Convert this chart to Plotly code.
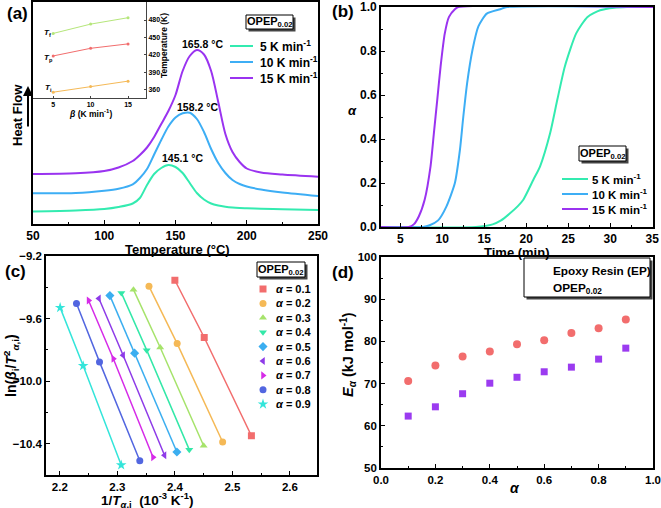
import plotly.graph_objects as go

W, H = 661, 508
FONT = "Liberation Sans, Arial, sans-serif"

# ---------------- data ----------------
# (a) DSC curves (heat flow, arbitrary units)
dsc_temp = [50, 80, 100, 110, 120, 125, 130, 135, 140, 145, 150, 155, 160, 165,
            170, 175, 180, 185, 190, 195, 200, 210, 225, 250]
hf_5 = [12.5, 13.5, 15, 17, 20.5, 26, 39, 50, 56, 59, 57, 51, 41, 31,
        24.5, 20.5, 18.5, 17.3, 16.5, 16, 15.7, 15.2, 14.7, 14]
hf_10 = [30.7, 31, 33.3, 35.3, 39.7, 46, 55, 69.5, 84, 97.5, 106.5, 110.7, 111.3, 105,
         92, 75, 61, 51, 44, 40, 37.5, 34.5, 31.5, 28]
hf_15 = [50, 50.7, 53, 56.5, 63, 69, 76.5, 87, 100, 113, 129, 153, 168, 174,
         169.5, 153, 122, 90, 72, 62, 55.5, 51.5, 49.5, 47.3]
peak_labels = ["145.1 °C", "158.2 °C", "165.8 °C"]
rate_names = ["5 K min<sup>-1</sup>", "10 K min<sup>-1</sup>", "15 K min<sup>-1</sup>"]

# (a) inset: characteristic temperatures (K) vs heating rate
beta = [5, 10, 15]
T_f = [457, 473, 484]
T_p = [418.3, 431.4, 439.0]
T_i = [356, 365.7, 375]

# (b) conversion vs time
t_5 = [2.7, 14.0, 16.0, 17.0, 18.0, 19.0, 19.65, 20.85, 21.65, 22.85, 23.7, 24.6, 25.95, 27.3, 28.8, 30.5, 32.0, 35.1]
a_5 = [0, 0, 0.012, 0.03, 0.06, 0.095, 0.124, 0.215, 0.276, 0.427, 0.578, 0.73, 0.88, 0.955, 0.985, 0.997, 1.0, 1.0]
t_10 = [2.7, 7.7, 8.5, 9.5, 10.5, 11.5, 12.1, 12.5, 12.96, 13.6, 14.3, 15.3, 16.9, 17.7, 35.1]
a_10 = [0, 0, 0.008, 0.03, 0.094, 0.2, 0.35, 0.5, 0.654, 0.806, 0.912, 0.97, 0.99, 1.0, 1.0]
t_15 = [2.7, 6.0, 6.6, 7.2, 7.9, 8.6, 9.0, 9.4, 9.8, 10.3, 10.8, 11.5, 11.9, 35.1]
a_15 = [0, 0, 0.012, 0.048, 0.124, 0.276, 0.427, 0.578, 0.73, 0.88, 0.955, 0.99, 1.0, 1.0]

# (c) KAS plots; points for 15, 10, 5 K/min
conv_labels = ["0.1", "0.2", "0.3", "0.4", "0.5", "0.6", "0.7", "0.8", "0.9"]
invT = [
    [2.400, 2.451, 2.533],
    [2.355, 2.404, 2.483],
    [2.328, 2.3745, 2.450],
    [2.307, 2.351, 2.425],
    [2.287, 2.330, 2.4035],
    [2.268, 2.310, 2.382],
    [2.250, 2.293, 2.362],
    [2.229, 2.269, 2.339],
    [2.2006, 2.2406, 2.3067],
]
lnbT = [
    [-9.355, -9.721, -10.349],
    [-9.394, -9.760, -10.389],
    [-9.415, -9.785, -10.413],
    [-9.436, -9.802, -10.438],
    [-9.453, -9.821, -10.453],
    [-9.472, -9.834, -10.474],
    [-9.485, -9.857, -10.487],
    [-9.504, -9.877, -10.509],
    [-9.530, -9.902, -10.536],
]

# (d) activation energy
alpha = [0.1, 0.2, 0.3, 0.4, 0.5, 0.6, 0.7, 0.8, 0.9]
Ea_EP = [70.6, 74.3, 76.4, 77.6, 79.3, 80.3, 82.0, 83.1, 85.2]
Ea_OPEP = [62.3, 64.5, 67.6, 70.1, 71.5, 72.8, 73.9, 75.8, 78.4]

# ---------------- styles ----------------
rate_colors = ["#33EBB0", "#3DAEF5", "#9A33F0"]
conv_colors = ["#F26D6D", "#F5B956", "#A6E36B", "#33E8A8", "#3BAEF0",
               "#8E3BE8", "#D62BE8", "#5266E0", "#33E5DA"]
conv_symbols = ["square", "circle", "triangle-up", "triangle-down", "diamond",
                "triangle-left", "triangle-right", "circle", "star"]
inset_colors = ["#B5E67A", "#F26D6D", "#F5B956"]
EP_COLOR = "#F26D6D"
OPEP_COLOR = "#9B3BF0"


def px(x):
    return x / W


def py(y):
    return 1 - y / H


fig = go.Figure()

# panel a
for hf, c in zip([hf_5, hf_10, hf_15], rate_colors):
    fig.add_trace(go.Scatter(x=dsc_temp, y=hf, mode="lines", line=dict(color=c, width=2, shape="spline", smoothing=0.8),
                             xaxis="x", yaxis="y", showlegend=False))
# inset
for T, c in zip([T_f, T_p, T_i], inset_colors):
    fig.add_trace(go.Scatter(x=beta, y=T, mode="lines+markers", line=dict(color=c, width=1),
                             marker=dict(color=c, size=3), xaxis="x5", yaxis="y5", showlegend=False))
# panel b
for t, a, c in zip([t_5, t_10, t_15], [a_5, a_10, a_15], rate_colors):
    fig.add_trace(go.Scatter(x=t, y=a, mode="lines", line=dict(color=c, width=2, shape="spline", smoothing=0.6),
                             xaxis="x2", yaxis="y2", showlegend=False))
# panel c
for xs, ys, c, s in zip(invT, lnbT, conv_colors, conv_symbols):
    fig.add_trace(go.Scatter(x=xs, y=ys, mode="lines+markers", line=dict(color=c, width=1.5),
                             marker=dict(color=c, symbol=s, size=8 if s == "star" else 7),
                             xaxis="x3", yaxis="y3", showlegend=False))
# panel d
fig.add_trace(go.Scatter(x=alpha, y=Ea_EP, mode="markers", marker=dict(color=EP_COLOR, symbol="circle", size=8),
                         xaxis="x4", yaxis="y4", showlegend=False))
fig.add_trace(go.Scatter(x=alpha, y=Ea_OPEP, mode="markers", marker=dict(color=OPEP_COLOR, symbol="square", size=7),
                         xaxis="x4", yaxis="y4", showlegend=False))

# ---------------- legend keys (overlay pixel axes) ----------------
LEG_C = dict(x=263, y0=289, dy=14.4, tx=274)
for i, (c, s) in enumerate(zip(conv_colors, conv_symbols)):
    fig.add_trace(go.Scatter(x=[LEG_C["x"]], y=[LEG_C["y0"] + i * LEG_C["dy"]], mode="markers",
                             marker=dict(color=c, symbol=s, size=8 if s == "star" else 7),
                             xaxis="x6", yaxis="y6", showlegend=False))
LEG_D = dict(x=537, y0=271, dy=17, tx=551)
for i, (c, s) in enumerate(zip([EP_COLOR, OPEP_COLOR], ["circle", "square"])):
    fig.add_trace(go.Scatter(x=[LEG_D["x"]], y=[LEG_D["y0"] + i * LEG_D["dy"]], mode="markers",
                             marker=dict(color=c, symbol=s, size=8 if s == "circle" else 7),
                             xaxis="x6", yaxis="y6", showlegend=False))

TICKFONT = dict(family=FONT, size=12, color="black", weight="bold")
TICKFONT_S = dict(family=FONT, size=11.5, color="black", weight="bold")


def frame(**kw):
    d = dict(showline=True, linecolor="black", linewidth=1.6, mirror=True, showgrid=False, zeroline=False,
             ticks="inside", ticklen=4, tickwidth=1.2, tickcolor="black", tickfont=TICKFONT_S,
             automargin=False)
    d.update(kw)
    return d


minor = lambda dt: dict(ticks="inside", ticklen=2.5, tickwidth=1, tickcolor="black", dtick=dt)

layout = dict(
    width=W, height=H, margin=dict(l=0, r=0, t=0, b=0, autoexpand=False),
    paper_bgcolor="white", plot_bgcolor="rgba(0,0,0,0)", showlegend=False,
    xaxis=frame(domain=[px(33), px(318)], range=[50, 250], dtick=50, tick0=50, anchor="y",
                minor=minor(25), tickfont=TICKFONT),
    yaxis=frame(domain=[py(224), py(2)], range=[0, 222], showticklabels=False, ticks="", anchor="x"),
    xaxis2=frame(domain=[px(381), px(653)], range=[2.7, 35.1], dtick=5, tick0=5, anchor="y2",
                 minor=minor(2.5), tickfont=TICKFONT),
    yaxis2=frame(domain=[py(227), py(7)], range=[0, 1], dtick=0.2, tickformat=".1f", anchor="x2",
                 minor=minor(0.1), tickfont=TICKFONT),
    xaxis3=frame(domain=[px(46), px(317)], range=[2.176, 2.647], dtick=0.1, tick0=2.2, tickformat=".1f",
                 anchor="y3", minor=minor(0.05)),
    yaxis3=frame(domain=[py(475), py(256)], range=[-10.6, -9.2], dtick=0.4, tick0=-10.4, tickformat=".1f",
                 anchor="x3", minor=minor(0.2)),
    xaxis4=frame(domain=[px(381), px(653)], range=[0, 1], dtick=0.2, tickformat=".1f", anchor="y4",
                 minor=minor(0.1)),
    yaxis4=frame(domain=[py(468), py(257)], range=[50, 100], dtick=10, anchor="x4", minor=minor(5)),
    xaxis5=dict(domain=[px(33), px(146)], range=[2.3, 17.4], anchor="y5", showline=True, linecolor="#444",
                linewidth=1, mirror=False, showgrid=False, zeroline=False, ticks="inside", ticklen=2.5,
                tickcolor="#444", tickvals=[5, 10, 15], automargin=False,
                tickfont=dict(family=FONT, size=7, color="black", weight="bold")),
    yaxis5=dict(domain=[py(98), py(2)], range=[346, 511], anchor="x5", side="right", showline=True,
                linecolor="#444", linewidth=1, showgrid=False, zeroline=False, ticks="inside", ticklen=2.5,
                tickcolor="#444", tickvals=[360, 390, 420, 450, 480], automargin=False,
                tickfont=dict(family=FONT, size=7, color="black", weight="bold")),
    xaxis6=dict(domain=[0, 1], range=[0, W], anchor="y6", visible=False, fixedrange=True, automargin=False),
    yaxis6=dict(domain=[0, 1], range=[H, 0], anchor="x6", visible=False, fixedrange=True, automargin=False),
)
fig.update_layout(**layout)

ann = []
shapes = []


def text(x, y, s, size=12, bold=True, italic=False, angle=0, xanchor="center", color="black"):
    ann.append(dict(x=px(x), y=py(y), xref="paper", yref="paper", text=s, showarrow=False,
                    textangle=angle, xanchor=xanchor, yanchor="middle",
                    font=dict(family=FONT, size=size, color=color, weight="bold" if bold else "normal",
                              style="italic" if italic else "normal")))


def box(x0, y0, x1, y1, sh=2.5):
    shapes.append(dict(type="rect", xref="paper", yref="paper", x0=px(x0 + sh), x1=px(x1 + sh),
                       y0=py(y1 + sh), y1=py(y0 + sh), fillcolor="#444", line=dict(width=0), layer="above"))
    shapes.append(dict(type="rect", xref="paper", yref="paper", x0=px(x0), x1=px(x1),
                       y0=py(y1), y1=py(y0), fillcolor="white", line=dict(color="black", width=1), layer="above"))


def hline(x0, x1, y, color):
    shapes.append(dict(type="line", xref="paper", yref="paper", x0=px(x0), x1=px(x1), y0=py(y), y1=py(y),
                       line=dict(color=color, width=2), layer="above"))


# panel labels
text(17, 14, "(a)", size=17)
text(343, 12, "(b)", size=17)
text(15, 271, "(c)", size=17)
text(343, 272, "(d)", size=17)

# axis titles
text(177, 249, "Temperature (°C)", size=13)
text(17, 115, "Heat Flow", size=13, angle=-90)
ann.append(dict(x=px(28), y=py(86), xref="paper", yref="paper", ax=0, ay=42, axref="pixel", ayref="pixel",
                showarrow=True, arrowhead=2, arrowsize=1, arrowwidth=2, arrowcolor="black", text=""))
text(517, 252, "Time (min)", size=13)
text(352, 110, "α", size=13, italic=True)
text(147, 500, "1/<i>T</i><sub><i>α</i>,i</sub>  (10<sup>-3</sup> K<sup>-1</sup>)", size=13.5)
text(11, 366, "ln(<i>β</i><sub>i</sub>/<i>T</i><sup>2</sup><sub><i>α</i>,i</sub>)", size=14, angle=-90)
text(515, 488, "α", size=14, italic=True)
text(348, 355, "<i>E</i><sub><i>α</i></sub> (kJ mol<sup>-1</sup>)", size=14.5, angle=-90)

# inset titles and labels
text(90, 113, "<i>β</i> (K min<sup>-1</sup>)", size=8.5)
text(164, 46, "Temperature (K)", size=8.5, angle=-90)
text(47, 33, "<i>T</i><sub>f</sub>", size=8)
text(48, 58, "<i>T</i><sub>p</sub>", size=8)
text(48, 88, "<i>T</i><sub>i</sub>", size=8)

# peak labels
for (lx, ly), s in zip([(182, 158), (197, 107), (202, 44)], peak_labels):
    text(lx, ly, s, size=10.5)

# OPEP boxes
OPEP = "OPEP<sub>0.02</sub>"
box(246, 15, 293, 29)
text(269.5, 22, OPEP, size=11)
box(579, 146, 626, 161)
text(602.5, 153.5, OPEP, size=11)
box(257, 262, 305, 277)
text(281, 269.5, OPEP, size=11)

# legend a
LEG_A = dict(x0=230, x1=253, y0=46, dy=16, tx=258)
for i, (c, s) in enumerate(zip(rate_colors, rate_names)):
    hline(LEG_A["x0"], LEG_A["x1"], LEG_A["y0"] + i * LEG_A["dy"], c)
    text(LEG_A["tx"], LEG_A["y0"] + i * LEG_A["dy"], s, size=12, xanchor="left")
# legend b
LEG_B = dict(x0=562, x1=588, y0=179, dy=15, tx=590)
for i, (c, s) in enumerate(zip(rate_colors, rate_names)):
    hline(LEG_B["x0"], LEG_B["x1"], LEG_B["y0"] + i * LEG_B["dy"], c)
    text(LEG_B["tx"], LEG_B["y0"] + i * LEG_B["dy"], s, size=11.5, xanchor="left")
# legend c
for i, s in enumerate(conv_labels):
    text(LEG_C["tx"], LEG_C["y0"] + i * LEG_C["dy"], "<i>α</i> = " + s, size=11, xanchor="left")
# legend d
box(524, 258, 650, 297)
for i, s in enumerate(["Epoxy Resin (EP)", OPEP]):
    text(LEG_D["tx"], LEG_D["y0"] + i * LEG_D["dy"], s, size=11.8, xanchor="left")

fig.update_layout(annotations=ann, shapes=shapes)
fig.write_html("out.html", config={"displayModeBar": False},
               post_script="document.body.style.margin='0';document.body.style.padding='0';")
